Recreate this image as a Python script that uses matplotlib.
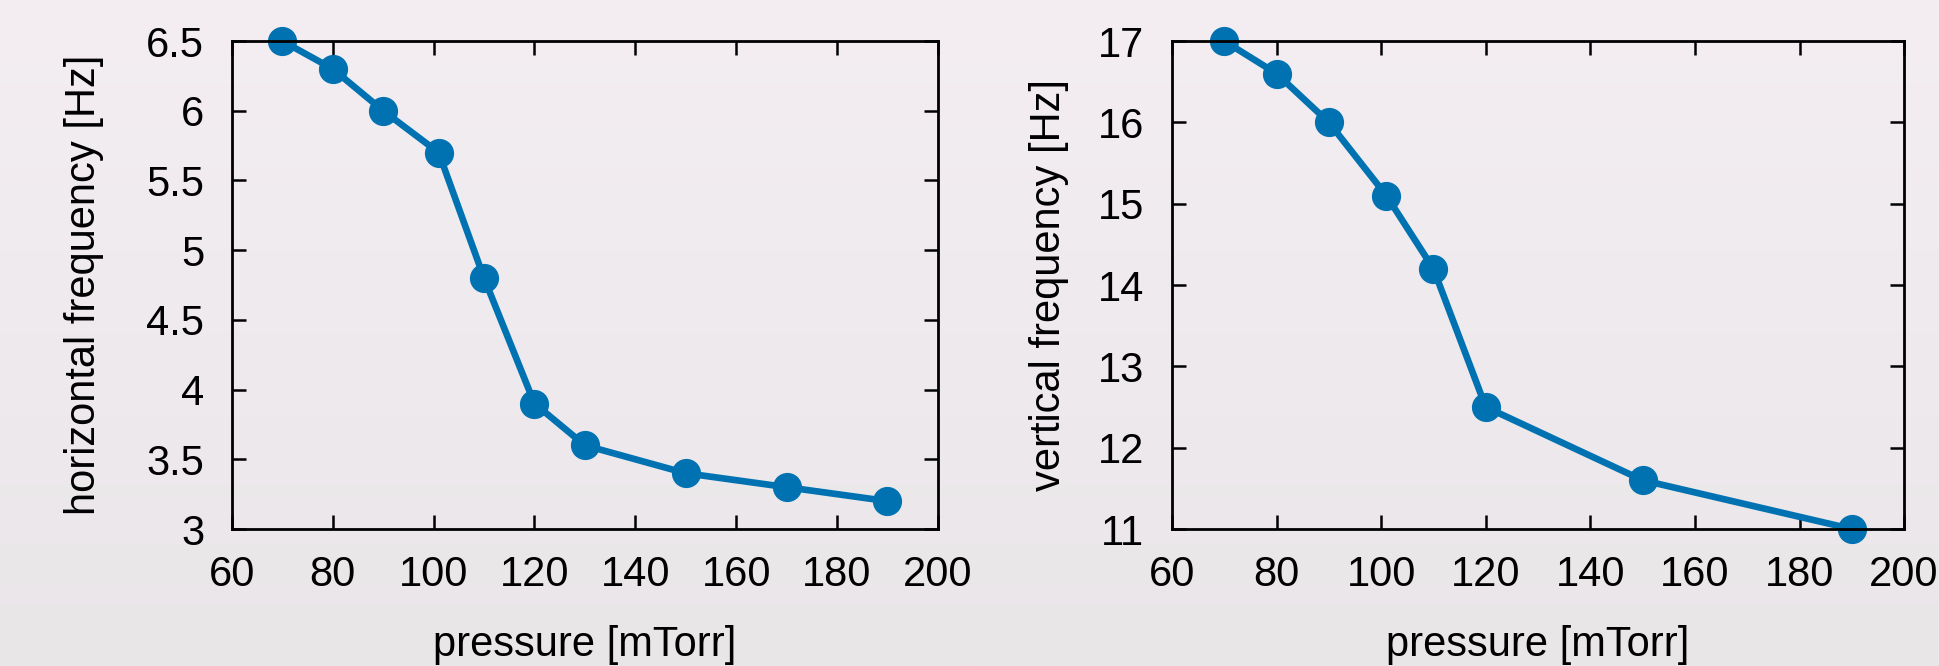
"""Pressure sweep of horizontal and vertical trap frequencies."""

import numpy as np
import matplotlib

matplotlib.use("Agg")
import matplotlib.pyplot as plt

# horizontal frequency vs pressure
h_pressure = [70, 80, 90, 101, 110, 120, 130, 150, 170, 190]
h_freq = [6.5, 6.3, 6.0, 5.7, 4.8, 3.9, 3.6, 3.4, 3.3, 3.2]

# vertical frequency vs pressure
v_pressure = [70, 80, 90, 101, 110, 120, 150, 190]
v_freq = [17.0, 16.6, 16.0, 15.1, 14.2, 12.5, 11.6, 11.0]

x_ticks = [60, 80, 100, 120, 140, 160, 180, 200]
h_ticks = [3, 3.5, 4, 4.5, 5, 5.5, 6, 6.5]
h_ticklabels = ["3", "3.5", "4", "4.5", "5", "5.5", "6", "6.5"]
v_ticks = [11, 12, 13, 14, 15, 16, 17]

BLUE = "#0072B2"
FONT = "Liberation Sans"
FS = 30

plt.rcParams["font.family"] = FONT
plt.rcParams["font.size"] = FS

fig = plt.figure(figsize=(19.39, 6.66), dpi=100)

# soft vertical gradient background
bg = fig.add_axes([0, 0, 1, 1], zorder=-10)
top = np.array([244, 238, 243]) / 255
bot = np.array([233, 230, 232]) / 255
t = np.linspace(0, 1, 256)[:, None]
grad = top[None, :] * (1 - t) + bot[None, :] * t
bg.imshow(grad[:, None, :], aspect="auto", extent=[0, 1, 0, 1])
bg.set_axis_off()


def style(ax):
    ax.set_facecolor("none")
    for spine in ax.spines.values():
        spine.set_linewidth(2.0)
        spine.set_color("black")
    ax.tick_params(direction="in", length=10, width=1.8, top=True, right=True,
                   labelsize=FS, colors="black")
    ax.tick_params(axis="x", pad=19)
    ax.tick_params(axis="y", pad=20)
    ax.set_xlim(60, 200)
    ax.set_xticks(x_ticks)
    ax.set_xlabel("pressure [mTorr]", fontsize=FS, labelpad=21)


ax1 = fig.add_axes([0.1196, 0.2057, 0.3641, 0.7327])
ax1.plot(h_pressure, h_freq, "-o", color=BLUE, lw=4.8, ms=20, clip_on=False)
ax1.set_ylim(3, 6.5)
ax1.set_yticks(h_ticks)
ax1.set_yticklabels(h_ticklabels)
ax1.set_ylabel("horizontal frequency [Hz]", fontsize=FS, labelpad=30)
style(ax1)

ax2 = fig.add_axes([0.6044, 0.2057, 0.3776, 0.7327])
ax2.plot(v_pressure, v_freq, "-o", color=BLUE, lw=4.8, ms=20, clip_on=False)
ax2.set_ylim(11, 17)
ax2.set_yticks(v_ticks)
ax2.set_ylabel("vertical frequency [Hz]", fontsize=FS, labelpad=21)
style(ax2)

fig.savefig("out.png", dpi=100)
